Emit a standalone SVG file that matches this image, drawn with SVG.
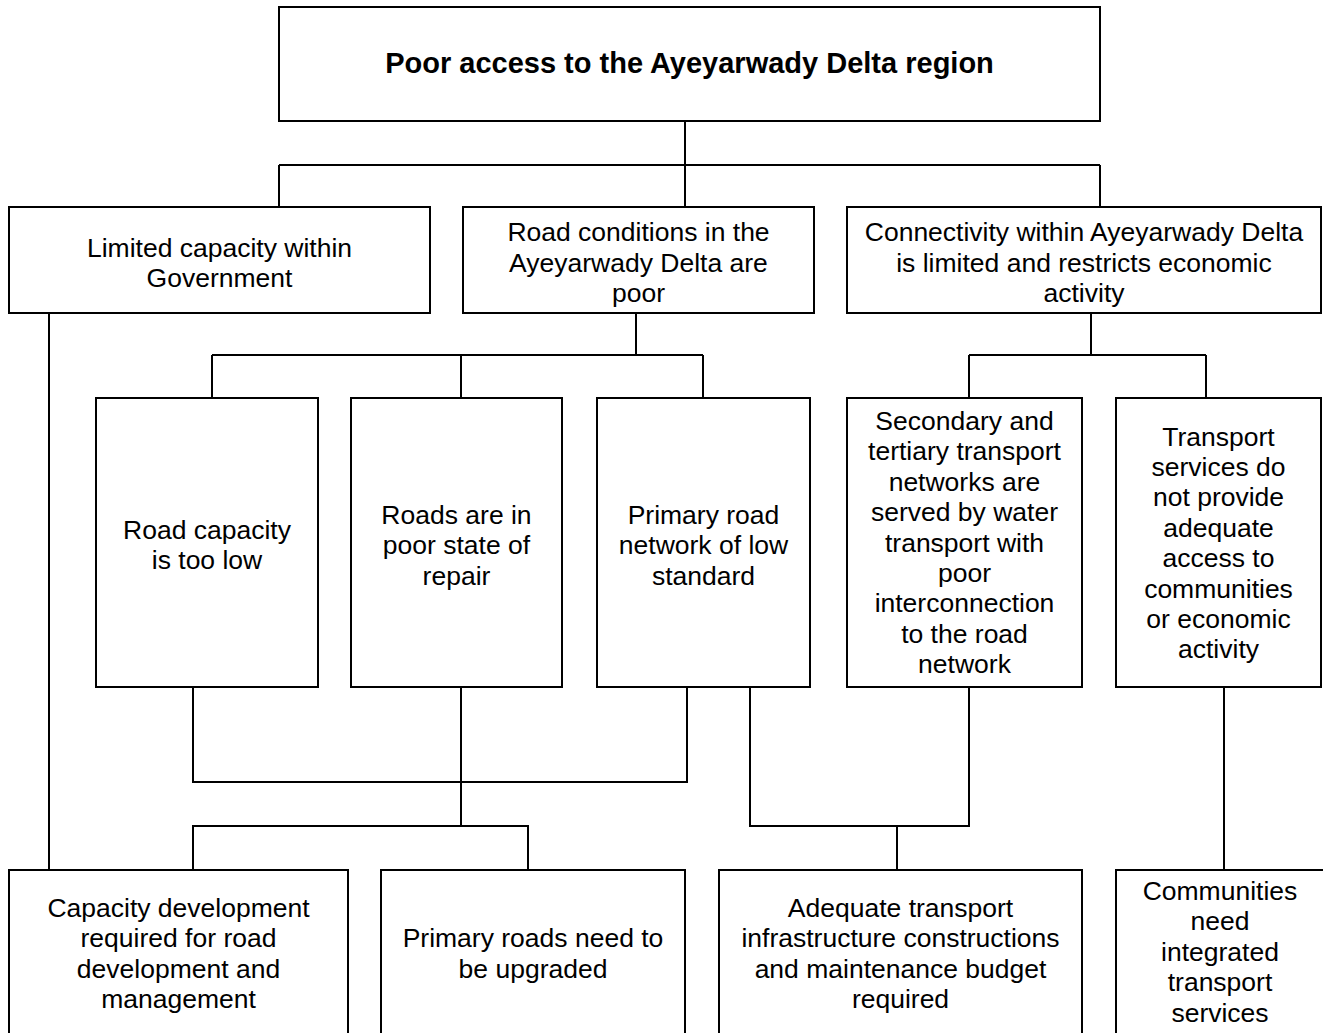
<svg xmlns="http://www.w3.org/2000/svg" width="1323" height="1033" viewBox="0 0 1323 1033">
<style>
.box{fill:#fff;stroke:#000;stroke-width:2}
.con{fill:none;stroke:#000;stroke-width:2}
.t{font-family:"Liberation Sans",Arial,sans-serif;font-size:26.5px;fill:#000;text-anchor:middle}
.title{font-family:"Liberation Sans",Arial,sans-serif;font-size:29px;font-weight:bold;fill:#000;text-anchor:middle}
</style>
<rect width="1323" height="1033" fill="#fff"/>
<g id="connectors">
<path class="con" d="M685 121V207M279 165H1100M279 165V207M1100 165V207"/>
<path class="con" d="M49 313V870"/>
<path class="con" d="M636 313V355M212 355H703M212 355V398M461 355V398M703 355V398"/>
<path class="con" d="M1091 313V355M969 355H1206M969 355V398M1206 355V398"/>
<path class="con" d="M193 687V782H687V687M461 687V826M193 870V826H528V870"/>
<path class="con" d="M750 687V826H969V687M897 826V870"/>
<path class="con" d="M1224 687V870"/>
</g>
<g id="n-root">
<rect class="box" x="279" y="7" width="821" height="114"/>
<text class="title" x="689.5" y="73">Poor access to the Ayeyarwady Delta region</text>
</g>
<g id="n-gov">
<rect class="box" x="9" y="207" width="421" height="106"/>
<text class="t"><tspan x="219.5" y="256.7">Limited capacity within</tspan><tspan x="219.5" y="287">Government</tspan></text>
</g>
<g id="n-roadcond">
<rect class="box" x="463" y="207" width="351" height="106"/>
<text class="t"><tspan x="638.5" y="241">Road conditions in the</tspan><tspan x="638.5" y="271.5">Ayeyarwady Delta are</tspan><tspan x="638.5" y="302">poor</tspan></text>
</g>
<g id="n-connect">
<rect class="box" x="847" y="207" width="474" height="106"/>
<text class="t"><tspan x="1084" y="241">Connectivity within Ayeyarwady Delta</tspan><tspan x="1084" y="271.5">is limited and restricts economic</tspan><tspan x="1084" y="302">activity</tspan></text>
</g>
<g id="n-capacity">
<rect class="box" x="96" y="398" width="222" height="289"/>
<text class="t"><tspan x="207" y="538.5">Road capacity</tspan><tspan x="207" y="569">is too low</tspan></text>
</g>
<g id="n-repair">
<rect class="box" x="351" y="398" width="211" height="289"/>
<text class="t"><tspan x="456.5" y="523.5">Roads are in</tspan><tspan x="456.5" y="554">poor state of</tspan><tspan x="456.5" y="584.5">repair</tspan></text>
</g>
<g id="n-primary">
<rect class="box" x="597" y="398" width="213" height="289"/>
<text class="t"><tspan x="703.5" y="523.5">Primary road</tspan><tspan x="703.5" y="554">network of low</tspan><tspan x="703.5" y="584.5">standard</tspan></text>
</g>
<g id="n-secondary">
<rect class="box" x="847" y="398" width="235" height="289"/>
<text class="t"><tspan x="964.5" y="430">Secondary and</tspan><tspan x="964.5" y="460.4">tertiary transport</tspan><tspan x="964.5" y="490.8">networks are</tspan><tspan x="964.5" y="521.2">served by water</tspan><tspan x="964.5" y="551.6">transport with</tspan><tspan x="964.5" y="582">poor</tspan><tspan x="964.5" y="612.4">interconnection</tspan><tspan x="964.5" y="642.8">to the road</tspan><tspan x="964.5" y="673.2">network</tspan></text>
</g>
<g id="n-services">
<rect class="box" x="1116" y="398" width="205" height="289"/>
<text class="t"><tspan x="1218.5" y="445.5">Transport</tspan><tspan x="1218.5" y="475.9">services do</tspan><tspan x="1218.5" y="506.3">not provide</tspan><tspan x="1218.5" y="536.7">adequate</tspan><tspan x="1218.5" y="567.1">access to</tspan><tspan x="1218.5" y="597.5">communities</tspan><tspan x="1218.5" y="627.9">or economic</tspan><tspan x="1218.5" y="658.3">activity</tspan></text>
</g>
<g id="n-capdev">
<rect class="box" x="9" y="870" width="339" height="175"/>
<text class="t"><tspan x="178.5" y="916.5">Capacity development</tspan><tspan x="178.5" y="947">required for road</tspan><tspan x="178.5" y="977.5">development and</tspan><tspan x="178.5" y="1008">management</tspan></text>
</g>
<g id="n-upgrade">
<rect class="box" x="381" y="870" width="304" height="175"/>
<text class="t"><tspan x="533" y="947">Primary roads need to</tspan><tspan x="533" y="977.5">be upgraded</tspan></text>
</g>
<g id="n-budget">
<rect class="box" x="719" y="870" width="363" height="175"/>
<text class="t"><tspan x="900.5" y="916.5">Adequate transport</tspan><tspan x="900.5" y="947">infrastructure constructions</tspan><tspan x="900.5" y="977.5">and maintenance budget</tspan><tspan x="900.5" y="1008">required</tspan></text>
</g>
<g id="n-integrated">
<rect class="box" x="1116" y="870" width="208" height="175"/>
<text class="t"><tspan x="1220" y="900">Communities</tspan><tspan x="1220" y="930.4">need</tspan><tspan x="1220" y="960.8">integrated</tspan><tspan x="1220" y="991.2">transport</tspan><tspan x="1220" y="1021.6">services</tspan></text>
</g>
</svg>
